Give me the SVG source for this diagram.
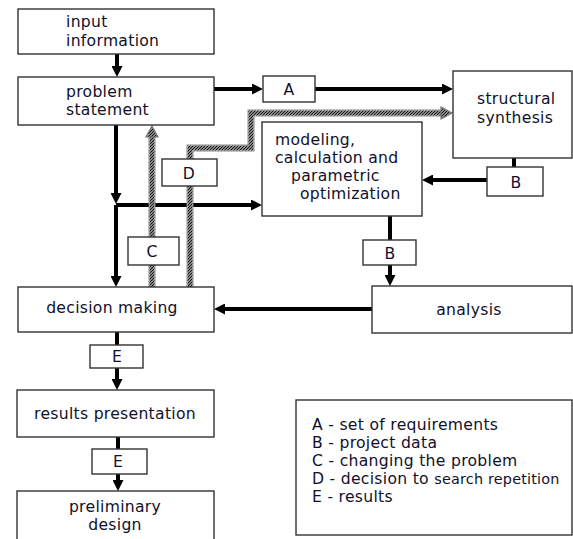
<svg xmlns="http://www.w3.org/2000/svg" width="573" height="539" viewBox="0 0 573 539">
  <style>
    .box { fill: #fff; stroke: #333; stroke-width: 1.4; }
    .txt { font-family: "DejaVu Sans", Verdana, sans-serif; font-size: 15.6px; letter-spacing: 0.3px; fill: #10102a; }
    .mid { text-anchor: middle; }
    .flow { fill: none; stroke: #000; stroke-width: 4; }
    .band-edge { fill: none; stroke: #888; stroke-width: 7; }
    .band-core { fill: none; stroke: #fff; stroke-width: 5; }
    .band-hatch { fill: none; stroke: url(#hatch); stroke-width: 5; }
    .band-head { fill: url(#hatch); stroke: #777; stroke-width: 1.2; }
    .small { font-size: 14.4px; letter-spacing: 0.2px; }
  </style>
  <defs>
    <marker id="arrow" markerUnits="userSpaceOnUse" markerWidth="12" markerHeight="11" refX="5" refY="5.5" orient="auto">
      <path d="M0,0 L11,5.5 L0,11 z" fill="#000"/>
    </marker>
    <pattern id="hatch" patternUnits="userSpaceOnUse" width="3" height="3">
      <rect width="3" height="3" fill="#ddd"/>
      <path d="M-1,1 L1,-1 M0,3 L3,0 M2,4 L4,2" stroke="#1a1a1a" stroke-width="1.3"/>
    </pattern>
  </defs>

  <!-- connectors -->
  <g id="connectors">
    <path class="flow" d="M117,54 V71" marker-end="url(#arrow)"/>
    <path class="flow" d="M214,89 H257" marker-end="url(#arrow)"/>
    <path class="flow" d="M315,89 H447" marker-end="url(#arrow)"/>
    <path class="flow" d="M116,125 V198" marker-end="url(#arrow)"/>
    <path class="flow" d="M116,205 H256" marker-end="url(#arrow)"/>
    <path class="flow" d="M116,205 V281" marker-end="url(#arrow)"/>
    <path class="flow" d="M514,158 V167"/>
    <path class="flow" d="M487,180 H428" marker-end="url(#arrow)"/>
    <path class="flow" d="M390,216 V240"/>
    <path class="flow" d="M390,265 V280" marker-end="url(#arrow)"/>
    <path class="flow" d="M372,309 H220" marker-end="url(#arrow)"/>
    <path class="flow" d="M117,332 V345"/>
    <path class="flow" d="M117,368 V384" marker-end="url(#arrow)"/>
    <path class="flow" d="M118,437 V449"/>
    <path class="flow" d="M118,474 V485" marker-end="url(#arrow)"/>

    <!-- C: changing the problem (hatched) -->
    <path class="band-edge" d="M152,287 V135"/>
    <path class="band-core" d="M152,288 V134"/>
    <path class="band-hatch" d="M152,288 V134"/>
    <path class="band-head" d="M152,126 L158,137 L146,137 z"/>

    <!-- D: decision to search repetition (hatched) -->
    <path class="band-edge" d="M190,287 V148 H251 V113 H443"/>
    <path class="band-core" d="M190,288 V148 H251 V113 H444"/>
    <path class="band-hatch" d="M190,288 V148 H251 V113 H444"/>
    <path class="band-head" d="M452,113 L441,107 L441,119 z"/>
  </g>

  <!-- nodes -->
  <g id="input-information">
    <rect class="box" x="18" y="9" width="196" height="45"/>
    <text class="txt" x="66" y="27.4">input<tspan x="66" dy="18.2">information</tspan></text>
  </g>
  <g id="problem-statement">
    <rect class="box" x="18" y="77" width="196" height="48"/>
    <text class="txt" x="66" y="96.5">problem<tspan x="66" dy="18.2">statement</tspan></text>
  </g>
  <g id="label-a">
    <rect class="box" x="263" y="76" width="52" height="26"/>
    <text class="txt mid" x="289" y="95">A</text>
  </g>
  <g id="structural-synthesis">
    <rect class="box" x="453" y="71" width="119" height="87"/>
    <text class="txt" x="477" y="104">structural<tspan x="477" dy="19">synthesis</tspan></text>
  </g>
  <g id="label-b-synthesis">
    <rect class="box" x="487" y="167" width="56" height="29"/>
    <text class="txt mid" x="516" y="188">B</text>
  </g>
  <g id="modeling">
    <rect class="box" x="262" y="122" width="160" height="94"/>
    <text class="txt" x="275" y="144.7">modeling,<tspan x="275" dy="18.2">calculation and</tspan><tspan x="291" dy="18.2">parametric</tspan><tspan x="300" dy="18.2">optimization</tspan></text>
  </g>
  <g id="label-d">
    <rect class="box" x="162" y="159" width="55" height="27"/>
    <text class="txt mid" x="189" y="179">D</text>
  </g>
  <g id="label-b-analysis">
    <rect class="box" x="363" y="240" width="53" height="25"/>
    <text class="txt mid" x="390" y="259">B</text>
  </g>
  <g id="label-c">
    <rect class="box" x="128" y="237" width="51" height="28"/>
    <text class="txt mid" x="152" y="257">C</text>
  </g>
  <g id="decision-making">
    <rect class="box" x="18" y="287" width="196" height="45"/>
    <text class="txt mid" x="112" y="313">decision making</text>
  </g>
  <g id="analysis">
    <rect class="box" x="372" y="286" width="200" height="47"/>
    <text class="txt mid" x="469" y="315">analysis</text>
  </g>
  <g id="label-e1">
    <rect class="box" x="90" y="345" width="53" height="23"/>
    <text class="txt mid" x="117" y="362">E</text>
  </g>
  <g id="results-presentation">
    <rect class="box" x="17" y="390" width="197" height="47"/>
    <text class="txt mid" x="115" y="419">results presentation</text>
  </g>
  <g id="label-e2">
    <rect class="box" x="92" y="449" width="55" height="25"/>
    <text class="txt mid" x="118" y="467">E</text>
  </g>
  <g id="preliminary-design">
    <rect class="box" x="17" y="491" width="197" height="52"/>
    <text class="txt mid" x="115" y="511.5">preliminary<tspan x="115" dy="18.2">design</tspan></text>
  </g>
  <g id="legend">
    <rect class="box" x="296" y="400" width="276" height="135"/>
    <text class="txt" x="312" y="429.6">A - set of requirements<tspan x="312" dy="18.2">B - project data</tspan><tspan x="312" dy="18.2">C - changing the problem</tspan><tspan x="312" dy="18.2">D - decision to </tspan><tspan class="small">search repetition</tspan><tspan x="312" dy="18.2">E - results</tspan></text>
  </g>
</svg>
